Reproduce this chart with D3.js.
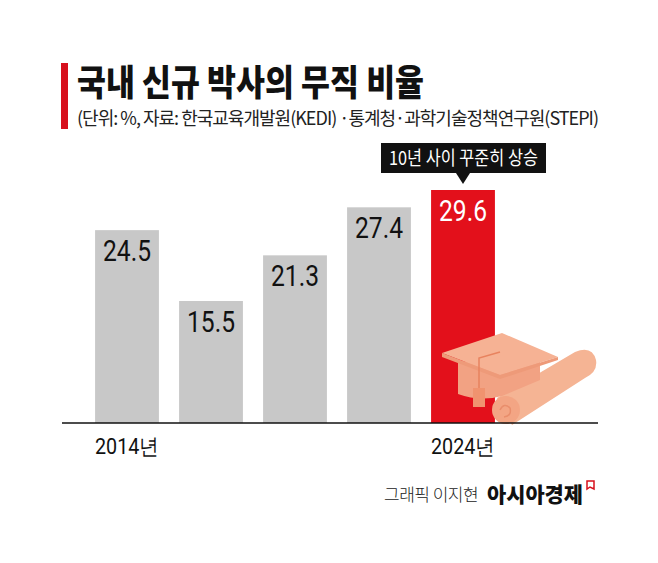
<!DOCTYPE html>
<html>
<head>
<meta charset="utf-8">
<script src="https://cdn.jsdelivr.net/npm/d3@7"></script>
<style>
  body { margin: 0; background: #fff; }
  svg { display: block; }
</style>
</head>
<body>
<div id="chart"></div>
<script>
// data
var categories = ["2014", "y2", "y3", "y4", "2024"];
var tickLabels = ["2014년", "", "", "", "2024년"];
var values = [24.5, 15.5, 21.3, 27.4, 29.6];
var titleText = "국내 신규 박사의 무직 비율";
var subtitleText = "(단위: %, 자료: 한국교육개발원(KEDI) ·통계청·과학기술정책연구원(STEPI)";
var calloutText = "10년 사이 꾸준히 상승";

var W = 658, H = 563;
var kr = "'Noto Sans CJK KR', 'Noto Sans', sans-serif";
var num = "Roboto, 'Noto Sans', sans-serif";

var svg = d3.select("#chart").append("svg")
  .attr("width", W)
  .attr("height", H);

// title block
svg.append("rect")
  .attr("x", 61).attr("y", 63)
  .attr("width", 7).attr("height", 66)
  .attr("fill", "#d7101d");

svg.append("text")
  .attr("x", 77).attr("y", 96)
  .attr("font-family", kr)
  .attr("font-weight", 900)
  .attr("font-size", 36)
  .attr("textLength", 347)
  .attr("lengthAdjust", "spacingAndGlyphs")
  .attr("fill", "#111")
  .text(titleText);

var sub = svg.append("text")
  .attr("x", 77).attr("y", 125)
  .attr("font-family", kr)
  .attr("font-size", 18)
  .attr("letter-spacing", -0.5)
  .attr("fill", "#222")
  .text(subtitleText);
// squeeze letter spacing so the line ends where the reference does
var subW = sub.node().getComputedTextLength();
var nChars = subtitleText.length;
sub.attr("letter-spacing", -0.5 + (521 - subW) / nChars);

// scales
var baseY = 423;
var x = d3.scaleBand()
  .domain(categories)
  .range([85, 505])
  .paddingInner(0.24)
  .paddingOuter(0.12);

var y = d3.scaleLinear()
  .domain([0, 29.6])
  .range([baseY, 190]);

var last = categories.length - 1;

// bars
svg.selectAll(".bar")
  .data(values)
  .enter().append("rect")
  .attr("class", "bar")
  .attr("x", function(d, i) { return x(categories[i]); })
  .attr("y", function(d) { return y(d); })
  .attr("width", x.bandwidth())
  .attr("height", function(d) { return baseY - y(d); })
  .attr("fill", function(d, i) { return i == last ? "#e3101b" : "#c8c8c8"; });

// value labels
svg.selectAll(".val")
  .data(values)
  .enter().append("text")
  .attr("class", "val")
  .attr("x", function(d, i) { return x(categories[i]) + x.bandwidth() / 2 - 24; })
  .attr("y", function(d) { return y(d) + 31; })
  .attr("font-family", num)
  .attr("font-size", 30)
  .attr("textLength", 48)
  .attr("lengthAdjust", "spacingAndGlyphs")
  .attr("fill", function(d, i) { return i == last ? "#fff" : "#111"; })
  .text(function(d) { return d.toFixed(1); });

// graduation cap + scroll (decoration)
var deco = svg.append("g");
// scroll
deco.append("path")
  .attr("d", "M497,398 L575,352 Q592,345 596,360 Q598,372 585,378 L512,425 Z")
  .attr("fill", "#f5b494");
deco.append("circle")
  .attr("cx", 506).attr("cy", 410).attr("r", 14)
  .attr("fill", "#f3a584");
deco.append("path")
  .attr("d", "M500,410 Q504,402 510,408 Q512,416 504,417")
  .attr("fill", "none").attr("stroke", "#e98e6c").attr("stroke-width", 1.5);
// crown
deco.append("path")
  .attr("d", "M458,362 L458,394 Q480,402 502,396 L540,380 L540,356 Z")
  .attr("fill", "#f2a283");
// board
deco.append("path")
  .attr("d", "M442,353 L502,333 L558,357 L500,375 Z")
  .attr("fill", "#f6b294");
deco.append("path")
  .attr("d", "M442,353 L500,375 L558,357 L558,360 L500,379 L442,357 Z")
  .attr("fill", "#ee9a79");
// tassel
deco.append("path")
  .attr("d", "M500,352 L479,358 L479,389")
  .attr("fill", "none").attr("stroke", "#e8835f").attr("stroke-width", 1.5);
deco.append("rect")
  .attr("x", 473).attr("y", 388).attr("width", 12).attr("height", 19)
  .attr("fill", "#f0936f");

// axis line
svg.append("line")
  .attr("x1", 62).attr("x2", 598)
  .attr("y1", baseY).attr("y2", baseY)
  .attr("stroke", "#111")
  .attr("stroke-width", 1.6);

// tick labels
svg.selectAll(".tick-label")
  .data(tickLabels)
  .enter().append("text")
  .attr("class", "tick-label")
  .attr("x", function(d, i) { return x(categories[i]) + x.bandwidth() / 2 - 32; })
  .attr("y", 454)
  .attr("font-family", num)
  .attr("font-size", 22)
  .attr("textLength", function(d) { return d ? 64 : 0; })
  .attr("lengthAdjust", "spacingAndGlyphs")
  .attr("fill", "#111")
  .text(function(d) { return d; });

// callout over last bar
var cx = x(categories[last]) + x.bandwidth() / 2;
var callout = svg.append("g");
callout.append("rect")
  .attr("x", cx - 82).attr("y", 143)
  .attr("width", 165).attr("height", 30)
  .attr("fill", "#111");
callout.append("path")
  .attr("d", "M" + (cx - 7) + ",173 L" + (cx + 7) + ",173 L" + cx + ",184 Z")
  .attr("fill", "#111");
callout.append("text")
  .attr("x", cx - 74).attr("y", 165)
  .attr("font-family", kr)
  .attr("font-size", 19)
  .attr("textLength", 149)
  .attr("lengthAdjust", "spacingAndGlyphs")
  .attr("fill", "#fff")
  .text(calloutText);

// credit
svg.append("text")
  .attr("x", 384).attr("y", 501)
  .attr("font-family", kr)
  .attr("font-weight", 300)
  .attr("font-size", 17)
  .attr("letter-spacing", -0.5)
  .attr("fill", "#222")
  .text("그래픽 이지현");
svg.append("text")
  .attr("x", 487).attr("y", 502)
  .attr("font-family", kr)
  .attr("font-weight", 900)
  .attr("font-size", 21)
  .attr("textLength", 96)
  .attr("lengthAdjust", "spacingAndGlyphs")
  .attr("fill", "#111")
  .text("아시아경제");
svg.append("path")
  .attr("d", "M587,481 L594,481 L594,489 L590,487 L587,489 Z")
  .attr("fill", "none")
  .attr("stroke", "#d7101d")
  .attr("stroke-width", 1.5);
</script>
</body>
</html>
